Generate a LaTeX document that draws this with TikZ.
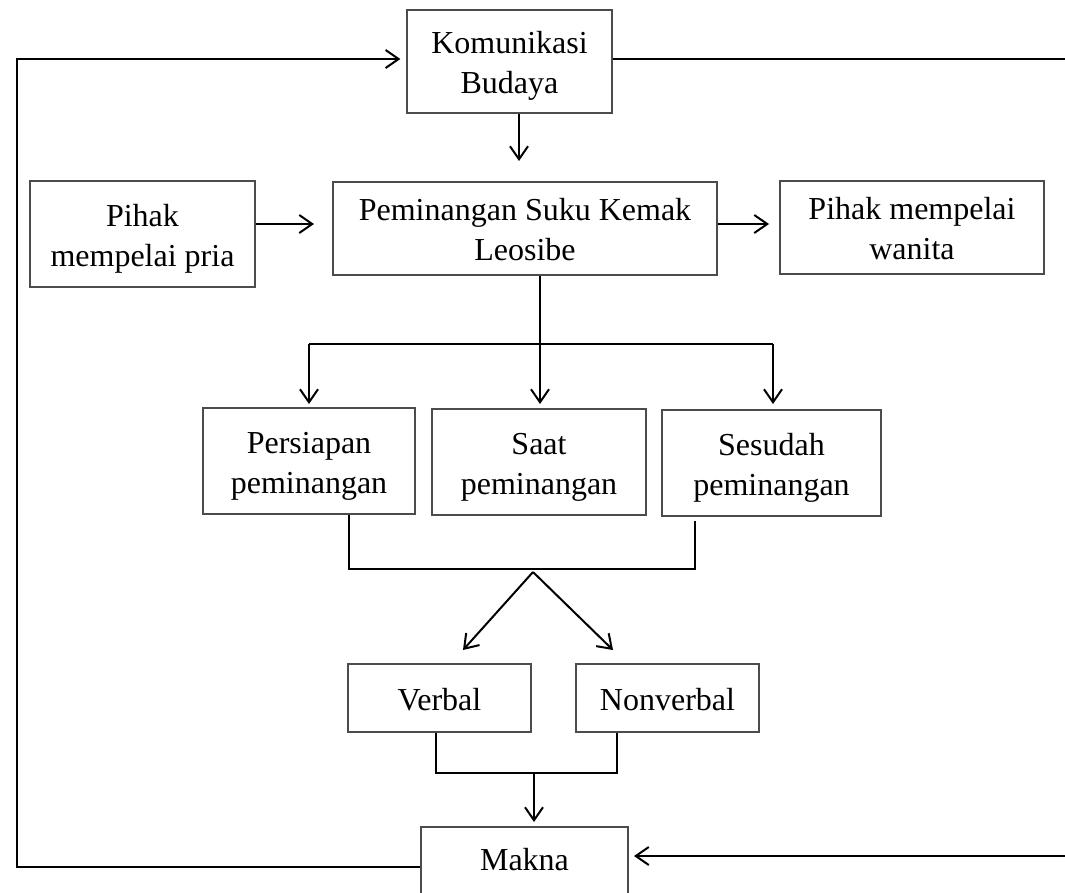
\documentclass[tikz,border=0pt]{standalone}
\usepackage{fontspec}
\setmainfont{Liberation Serif}
\usetikzlibrary{arrows.meta}
\newcommand{\mytopstrut}{\rule{0pt}{36pt}}
\begin{document}
\begin{tikzpicture}[x=1pt,y=-1pt,
  box/.style={draw=black!70, line width=1.3pt, inner sep=0pt, align=center,
              font=\fontsize{32}{40}\selectfont},
  conn/.style={line width=2pt, line join=miter},
  arr/.style={conn, -{Straight Barb[length=13pt,width=18pt,line width=2pt]}}]
\useasboundingbox (0,0) rectangle (1065,892);

% boxes
\node[box, minimum width=205pt, minimum height=103pt] (kom)  at (509.5,61.5) {\mytopstrut Komunikasi\\Budaya\strut};
\node[box, minimum width=225pt, minimum height=106pt] (pria) at (142.5,234) {\mytopstrut Pihak\\mempelai pria\strut};
\node[box, minimum width=384pt, minimum height=93pt]  (pem)  at (525,228.5) {\mytopstrut Peminangan Suku Kemak\\Leosibe\strut};
\node[box, minimum width=264pt, minimum height=93pt]  (wan)  at (912,227.5) {\mytopstrut Pihak mempelai\\wanita\strut};
\node[box, minimum width=212pt, minimum height=106pt] (per)  at (309,461) {\mytopstrut Persiapan\\peminangan\strut};
\node[box, minimum width=214pt, minimum height=106pt] (saat) at (539,462) {\mytopstrut Saat\\peminangan\strut};
\node[box, minimum width=219pt, minimum height=106pt] (ses)  at (771.5,463) {\mytopstrut Sesudah\\peminangan\strut};
\node[box, minimum width=183pt, minimum height=68pt]  (verb) at (439.5,698) {\mytopstrut Verbal\strut};
\node[box, minimum width=183pt, minimum height=68pt]  (nonv) at (667.5,698) {\mytopstrut Nonverbal\strut};
\node[box, minimum width=207pt, minimum height=70pt]  (makna) at (524.5,862) {\strut Makna};

% coordinates
\coordinate (A)  at (519,161);
\coordinate (B)  at (314,224);
\coordinate (C)  at (769,224);
\coordinate (H1) at (309,344);
\coordinate (H2) at (773,344);
\coordinate (T1) at (309,404);
\coordinate (T2) at (540,404);
\coordinate (T3) at (773,404);
\coordinate (J1) at (349,569);
\coordinate (J2) at (695,569);
\coordinate (P)  at (533,572);
\coordinate (V1) at (463,650);
\coordinate (V2) at (613,650);
\coordinate (K1) at (436,773);
\coordinate (K2) at (617,773);
\coordinate (K3) at (534,773);
\coordinate (M)  at (534,822);
\coordinate (L1) at (17,867);
\coordinate (L2) at (17,59);
\coordinate (R1) at (1065,59);
\coordinate (R2) at (1065,856);
\coordinate (R3) at (634,856);

% connectors
\draw[arr] (A |- kom.south) -- (A);
\draw[arr] (pria.east |- B) -- (B);
\draw[arr] (pem.east |- C) -- (C);
\draw[conn] (pem.south -| T2) -- (T2 |- H1);
\draw[conn] (H1) -- (H2);
\draw[arr] (H1) -- (T1);
\draw[arr] (T2 |- H1) -- (T2);
\draw[arr] (H2) -- (T3);
\draw[conn] (per.south -| J1) -- (J1) -- (J2) -- ([yshift=-4pt]ses.south -| J2);
\draw[arr] (P) -- (V1);
\draw[arr] (P) -- (V2);
\draw[conn] (verb.south -| K1) -- (K1) -- (K2) -- (nonv.south -| K2);
\draw[arr] (K3) -- (M);
\draw[arr] (makna.west |- L1) -- (L1) -- (L2) -- ([xshift=-6pt]kom.west |- L2);
\draw[conn] (kom.east |- R1) -- (R1);
\draw[arr] (R2) -- (R3);
\end{tikzpicture}
\end{document}
